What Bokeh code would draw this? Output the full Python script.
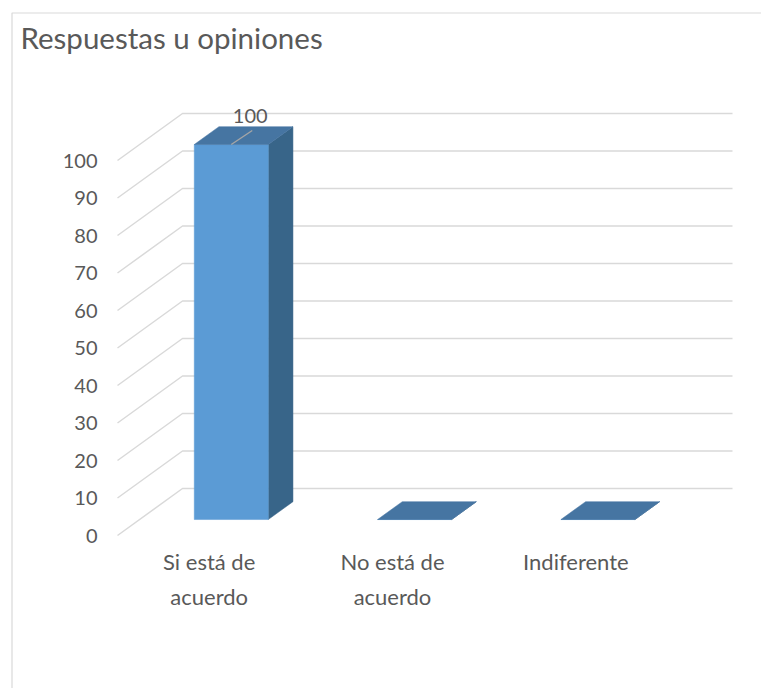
from bokeh.plotting import figure
from bokeh.models import Range1d
from bokeh.core.properties import value
from bokeh.embed import file_html
from bokeh.resources import INLINE

# ---- data ----
title_text = "Respuestas u opiniones"
categories = ["Si está de acuerdo", "No está de acuerdo", "Indiferente"]
category_labels = ["Si está de\nacuerdo", "No está de\nacuerdo", "Indiferente"]
values = [100, 0, 0]
y_ticks = [0, 10, 20, 30, 40, 50, 60, 70, 80, 90, 100]

# ---- layout (pixels) ----
W, H = 761, 688
X0PX = 117.0          # front-left of floor
CATPX = 550.0 / 3     # width of one category on the front plane
Y0PX = 535.0          # front value 0
VPX = 3.75            # pixels per value unit
DEPTH_PX = (65.0, 47.0)


def xd(px):
    return (px - X0PX) / CATPX


def yd(py):
    return (Y0PX - py) / VPX


DX = DEPTH_PX[0] / CATPX
DY = DEPTH_PX[1] / VPX


def proj(c, v, d):
    return c + d * DX, v + d * DY


TEXT = "#595959"
GRID = "#D9D9D9"
FRONT = "#5B9BD5"
TOP = "#4675A2"
SIDE = "#386589"

p = figure(width=W, height=H, min_border=0, x_axis_type=None, y_axis_type=None,
           toolbar_location=None, output_backend="svg", outline_line_color=None,
           x_range=Range1d(xd(0), xd(W)), y_range=Range1d(yd(H), yd(0)))
p.grid.visible = False
p.background_fill_color = "white"
p.border_fill_color = "white"

# chart border (left and top)
p.line([xd(11.5), xd(11.5), xd(W + 10)], [yd(H + 10), yd(12.5), yd(12.5)],
       line_color=GRID, line_width=1.2)

# wall gridlines
ncat = len(categories)
for v in y_ticks:
    a = proj(0, v, 0)
    b = proj(0, v, 1)
    c = proj(ncat, v, 1)
    p.line([a[0], b[0], c[0]], [a[1], b[1], c[1]], line_color=GRID, line_width=1.5)

# bars
BW = 74.0 / CATPX
D1, D2 = 0.34, 0.72
xs_front, ys_front, xs_top, ys_top, xs_side, ys_side = [], [], [], [], [], []
for i, v in enumerate(values):
    x0 = i + 0.5 - BW / 2
    x1 = i + 0.5 + BW / 2
    pts = [proj(x0, 0, D1), proj(x1, 0, D1), proj(x1, v, D1), proj(x0, v, D1)]
    xs_front.append([q[0] for q in pts]); ys_front.append([q[1] for q in pts])
    pts = [proj(x0, v, D1), proj(x1, v, D1), proj(x1, v, D2), proj(x0, v, D2)]
    xs_top.append([q[0] for q in pts]); ys_top.append([q[1] for q in pts])
    pts = [proj(x1, 0, D1), proj(x1, 0, D2), proj(x1, v, D2), proj(x1, v, D1)]
    xs_side.append([q[0] for q in pts]); ys_side.append([q[1] for q in pts])

p.patches(xs_side, ys_side, fill_color=SIDE, line_color=SIDE, line_width=0.5)
p.patches(xs_front, ys_front, fill_color=FRONT, line_color=FRONT, line_width=0.5)
p.patches(xs_top, ys_top, fill_color=TOP, line_color=TOP, line_width=0.5)

# data label with leader line (only for non-zero values)
for i, v in enumerate(values):
    if v == 0:
        continue
    sx, sy = proj(i + 0.5, v, D1)
    ex, ey = sx + 21.0 / CATPX, sy + 14.0 / VPX
    p.line([sx, ex], [sy, ey], line_color="#A6A6A6", line_width=1.3)
    p.text([ex], [ey], text=[f"{v:g}"], text_font=value("Lato"),
           text_font_size="20px", text_color=TEXT, text_align="center",
           text_baseline="middle", x_offset=-2, y_offset=-15)

# y tick labels
p.text([0] * len(y_ticks), y_ticks, text=[str(t) for t in y_ticks],
       text_font=value("Lato"), text_font_size="20px", text_color=TEXT,
       text_align="right", text_baseline="middle", x_offset=-20)

# category labels
p.text([i + 0.5 for i in range(ncat)], [0] * ncat, text=category_labels,
       text_font=value("Lato"), text_font_size="22px", text_color=TEXT,
       text_align="center", text_baseline="top", y_offset=12,
       text_line_height=1.3)

# title
p.text([xd(20)], [yd(37)], text=[title_text], text_font=value("Lato"),
       text_font_size="29.5px", text_color=TEXT, text_align="left",
       text_baseline="alphabetic")

open("out.html", "w").write(file_html(p, INLINE))
